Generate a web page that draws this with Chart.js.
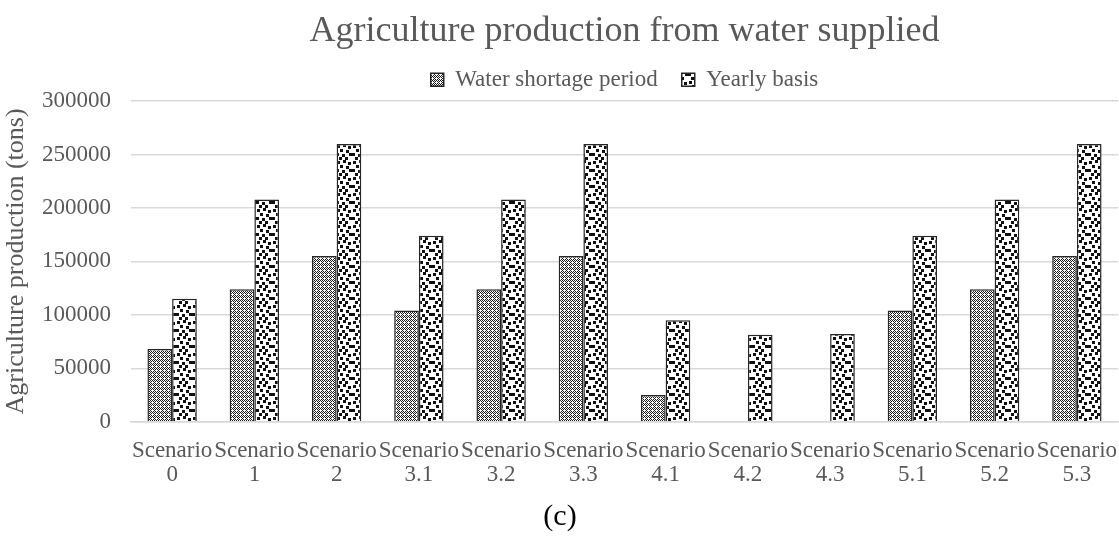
<!DOCTYPE html>
<html>
<head>
<meta charset="utf-8">
<script src="https://cdn.jsdelivr.net/npm/chart.js@4.4.1/dist/chart.umd.min.js"></script>
<style>
    html, body { margin: 0; padding: 0; background: #ffffff; }
    #wrap { width: 1119px; height: 536px; position: relative; }
</style>
</head>
<body>
<div id="wrap"><canvas id="prod-chart"></canvas></div>
<script>
// Datos
const scenarios = ['0', '1', '2', '3.1', '3.2', '3.3', '4.1', '4.2', '4.3', '5.1', '5.2', '5.3'];
const shortagePeriod = [68000, 124000, 155000, 104000, 124000, 155000, 25000, 0, 0, 104000, 124000, 155000];
const yearlyBasis = [115000, 208000, 260000, 174000, 208000, 260000, 95000, 81500, 82000, 174000, 208000, 260000];
const yTicks = [0, 50000, 100000, 150000, 200000, 250000, 300000];

const gray = '#595959';
const serif = "'Liberation Serif', 'DejaVu Serif', serif";

// trama fina tipo rombos para "Water shortage period"
function makeDiamondPattern() {
    const c = document.createElement('canvas');
    c.width = 4; c.height = 4;
    const g = c.getContext('2d');
    g.fillStyle = '#ffffff';
    g.fillRect(0, 0, 4, 4);
    g.fillStyle = '#1a1a1a';
    const dots = [[0, 0], [1, 1], [2, 2], [3, 3], [1, 3], [3, 1], [2, 0]];
    dots.forEach(p => g.fillRect(p[0], p[1], 1, 1));
    return g.createPattern(c, 'repeat');
}

// confeti grande para "Yearly basis"
function makeConfettiPattern() {
    const c = document.createElement('canvas');
    c.width = 16; c.height = 16;
    const g = c.getContext('2d');
    g.fillStyle = '#ffffff';
    g.fillRect(0, 0, 16, 16);
    g.fillStyle = '#111111';
    const squares = [[1, 1], [7, 0], [12, 2], [4, 5], [10, 6], [0, 9], [6, 10], [13, 9], [3, 13], [9, 13]];
    squares.forEach(s => g.fillRect(s[0], s[1], 3, 3));
    return g.createPattern(c, 'repeat');
}

const diamondFill = makeDiamondPattern();
const confettiFill = makeConfettiPattern();

const ctx = document.getElementById('prod-chart');

new Chart(ctx, {
    type: 'bar',
    data: {
        labels: scenarios.map(s => ['Scenario', s]),
        datasets: [{
            label: 'Water shortage period',
            data: shortagePeriod,
            backgroundColor: diamondFill,
            borderColor: '#262626',
            borderWidth: 1.5
        }, {
            label: 'Yearly basis',
            data: yearlyBasis,
            backgroundColor: confettiFill,
            borderColor: '#262626',
            borderWidth: 1.5
        }]
    },
    options: {
        responsive: true,
        maintainAspectRatio: false,
        animation: false,
        layout: { padding: { top: 10, left: 2, right: 1, bottom: 4 } },
        datasets: {
            bar: { categoryPercentage: 0.6, barPercentage: 1.0 }
        },
        scales: {
            x: {
                grid: { display: false },
                border: { color: '#d9d9d9', width: 1.5 },
                ticks: {
                    color: gray,
                    font: { family: serif, size: 23, lineHeight: 1.05 },
                    maxRotation: 0,
                    autoSkip: false,
                    padding: 9
                },
                // las etiquetas pueden llegar al borde como en el original
                afterFit: axis => { axis.paddingLeft = 0; axis.paddingRight = 0; }
            },
            y: {
                min: 0,
                max: 300000,
                afterBuildTicks: axis => { axis.ticks = yTicks.map(v => ({ value: v })); },
                afterFit: axis => { axis.width = 129; },
                grid: { color: '#d9d9d9', lineWidth: 1.5, drawTicks: false },
                border: { display: false },
                ticks: {
                    color: gray,
                    font: { family: serif, size: 23 },
                    padding: 20,
                    callback: v => String(v)
                },
                title: {
                    display: true,
                    text: 'Agriculture production (tons)',
                    color: gray,
                    font: { family: serif, size: 26, lineHeight: 1.1 },
                    padding: { top: 0, bottom: 0 }
                }
            }
        },
        plugins: {
            title: {
                display: true,
                text: 'Agriculture production from water supplied',
                color: gray,
                fullSize: false,
                font: { family: serif, size: 36, weight: 'normal', lineHeight: 1.2 },
                padding: { top: 0, bottom: -9 }
            },
            subtitle: {
                display: true,
                position: 'bottom',
                text: '(c)',
                color: '#000000',
                font: { family: serif, size: 30, lineHeight: 1.0 },
                padding: { top: 6, bottom: 0 }
            },
            legend: {
                position: 'top',
                fullSize: false,
                labels: {
                    color: gray,
                    font: { family: serif, size: 23 },
                    boxWidth: 13,
                    boxHeight: 13,
                    padding: 24
                }
            },
            tooltip: { enabled: false }
        }
    }
});
</script>
</body>
</html>
